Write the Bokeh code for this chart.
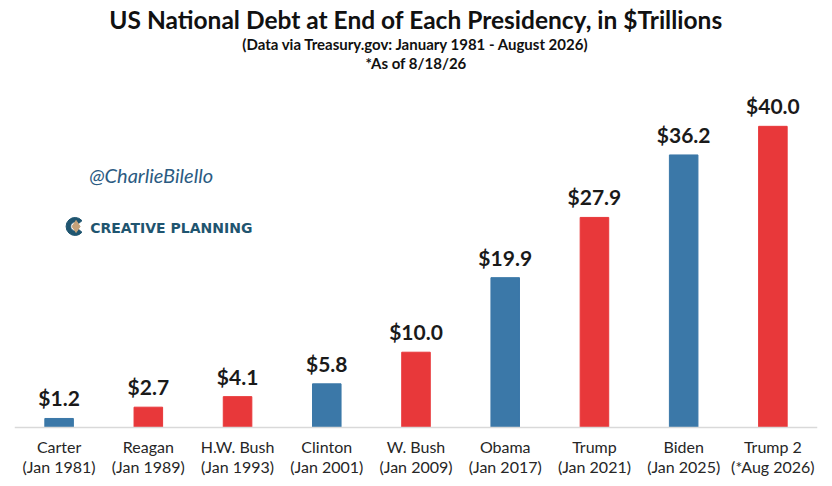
from bokeh.plotting import figure
from bokeh.models import ColumnDataSource, LabelSet, Label, Range1d, Span
from bokeh.embed import file_html
from bokeh.resources import INLINE
from bokeh.core.properties import value
import math

presidents = ["Carter", "Reagan", "H.W. Bush", "Clinton", "W. Bush", "Obama", "Trump", "Biden", "Trump 2"]
dates = ["(Jan 1981)", "(Jan 1989)", "(Jan 1993)", "(Jan 2001)", "(Jan 2009)", "(Jan 2017)", "(Jan 2021)", "(Jan 2025)", "(*Aug 2026)"]
debt = [1.2, 2.7, 4.1, 5.8, 10.0, 19.9, 27.9, 36.2, 40.0]
party = ["D", "R", "R", "D", "R", "D", "R", "D", "R"]

BLUE = "#3b78a8"
RED = "#e8383a"
colors = [BLUE if p == "D" else RED for p in party]
xs = list(range(len(presidents)))
labels = ["$%.1f" % v for v in debt]

src = ColumnDataSource(dict(x=xs, top=debt, color=colors, label=labels,
                            name=presidents, date=dates, zero=[0] * len(xs)))

FONT = "Lato"
W, H = 824, 478
p = figure(width=W, height=H, output_backend="svg", toolbar_location=None,
           x_range=Range1d(-0.5, 8.5), y_range=Range1d(-6.773, 55.65),
           x_axis_location=None, y_axis_location=None,
           min_border_left=14, min_border_right=7, min_border_top=8, min_border_bottom=0)
p.outline_line_color = None
p.xgrid.visible = False
p.ygrid.visible = False
p.background_fill_color = "white"
p.border_fill_color = "white"

# baseline
p.add_layout(Span(location=0, dimension="width", line_color="#d9d9d9", line_width=1.5))

p.vbar(x="x", top="top", bottom=0, width=0.32, color="color", source=src)

p.add_layout(LabelSet(x="x", y="top", text="label", source=src, y_offset=12,
                      text_align="center", text_baseline="alphabetic",
                      text_font=value(FONT), text_font_style="bold",
                      text_font_size="21px", text_color="#1a1a1a"))

# category labels (two centred lines)
p.add_layout(LabelSet(x="x", y="zero", text="name", source=src, y_offset=-19,
                      text_align="center", text_baseline="middle",
                      text_font=value(FONT), text_font_size="16px",
                      text_color="#262626"))
p.add_layout(LabelSet(x="x", y="zero", text="date", source=src, y_offset=-39,
                      text_align="center", text_baseline="middle",
                      text_font=value(FONT), text_font_size="16px",
                      text_color="#262626"))

# Titles
p.add_layout(Label(x=4.0, y=54.2,
                   text="US National Debt at End of Each Presidency, in $Trillions",
                   text_align="center", text_baseline="alphabetic",
                   text_font=FONT, text_font_style="bold", text_font_size="24.5px",
                   text_color="#111111"))
p.add_layout(Label(x=4.0, y=51.0,
                   text="(Data via Treasury.gov: January 1981 - August 2026)",
                   text_align="center", text_baseline="alphabetic",
                   text_font=FONT, text_font_style="bold", text_font_size="15px",
                   text_color="#111111"))
p.add_layout(Label(x=4.0, y=48.45,
                   text="*As of 8/18/26",
                   text_align="center", text_baseline="alphabetic",
                   text_font=FONT, text_font_style="bold", text_font_size="15px",
                   text_color="#111111"))

# Watermarks
p.add_layout(Label(x=1.031, y=33.47,
                   text="@CharlieBilello", text_align="center", text_baseline="middle",
                   text_font=FONT, text_font_style="italic", text_font_size="20px",
                   text_color="#2b5b82"))
p.add_layout(Label(x=0.348, y=26.55,
                   text="CREATIVE PLANNING", text_align="left", text_baseline="middle",
                   text_font="DejaVu Sans", text_font_style="bold", text_font_size="14px",
                   text_color="#1f5570"))
# logo icon
p.annular_wedge(x=[0.179], y=[26.7], inner_radius=4.5, outer_radius=9,
                inner_radius_units="screen", outer_radius_units="screen",
                start_angle=math.pi / 4.5, end_angle=-math.pi / 4.5, direction="anticlock",
                color="#1f5570")
p.scatter(x=[0.19], y=[26.7], marker="diamond", size=12, color="#c4a27a")

open("out.html", "w").write(file_html(p, INLINE))
